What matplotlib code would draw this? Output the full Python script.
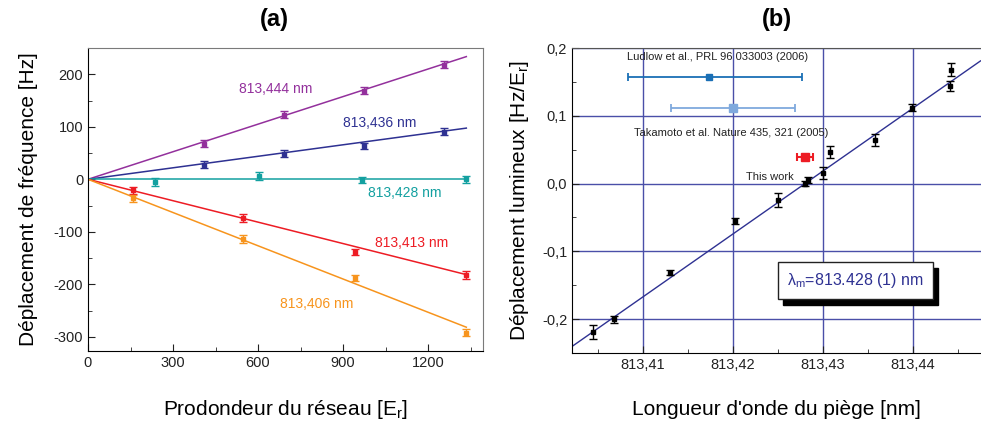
import numpy as np
import matplotlib
matplotlib.use("Agg")
import matplotlib.pyplot as plt
from matplotlib.ticker import MultipleLocator, FuncFormatter

plt.rcParams['font.family'] = ['Liberation Sans', 'DejaVu Sans']
plt.rcParams['axes.unicode_minus'] = False

# ---------------- Panel (a) data ----------------
depth_444 = [409, 693, 975, 1257]
shift_444 = [68, 123, 169, 218]
depth_436 = [409, 693, 975, 1257]
shift_436 = [28, 49, 63, 91]
depth_428 = [236, 604, 968, 1334]
shift_428 = [-5, 6, -1, 0]
depth_413 = [159, 547, 943, 1334]
shift_413 = [-21, -74, -138, -182]
depth_406 = [159, 547, 943, 1334]
shift_406 = [-36, -114, -188, -292]
err_a = [7, 7, 6, 7]
slopes_a = [0.175, 0.073, 0.0, -0.136, -0.211]
labels_a = ["813,444 nm", "813,436 nm", "813,428 nm", "813,413 nm", "813,406 nm"]
label_pos_x = [664, 1031, 1119, 1143, 808]
label_pos_y = [171, 108, -26, -121, -237]
colors_a = ["#93309c", "#2e3192", "#13a0a0", "#ed1c24", "#f7941d"]

# ---------------- Panel (b) data ----------------
wl = [813.4044, 813.4068, 813.4130, 813.4202, 813.4250, 813.4280, 813.4283,
      813.4300, 813.4308, 813.4358, 813.4399, 813.4441, 813.4442]
ls_shift = [-0.219, -0.2005, -0.1313, -0.0554, -0.024, 0.0, 0.0054,
            0.015, 0.046, 0.064, 0.112, 0.144, 0.168]
ls_err = [0.011, 0.005, 0.004, 0.004, 0.010, 0.004, 0.005,
          0.009, 0.009, 0.009, 0.005, 0.008, 0.010]
fit_slope = 9.28
lambda_m = 813.428
ludlow = (813.4173, 0.1574)
ludlow_xerr = [[0.0090], [0.0104]]
takamoto = (813.4200, 0.1113)
takamoto_xerr = 0.0069
thiswork = (813.4280, 0.0397)
thiswork_xerr = 0.0009

fig = plt.figure(figsize=(9.81, 4.23), dpi=100)

# ======== Panel (a) ========
axa = fig.add_axes([0.0897, 0.1702, 0.4027, 0.7163])
series = [(depth_444, shift_444), (depth_436, shift_436), (depth_428, shift_428),
          (depth_413, shift_413), (depth_406, shift_406)]
xfit = np.array([0, 1335])
for (xs, ys), s, c, lab, lx, ly in zip(series, slopes_a, colors_a, labels_a,
                                       label_pos_x, label_pos_y):
    axa.plot(xfit, s * xfit, color=c, lw=1.1, zorder=2)
    axa.errorbar(xs, ys, yerr=err_a, fmt='s', ms=3, color=c, ecolor=c,
                 elinewidth=1.0, capsize=3, capthick=1.0, zorder=3)
    axa.text(lx, ly, lab, color=c, fontsize=10, ha='center', va='center')

axa.set_xlim(0, 1394)
axa.set_ylim(-327, 250)
axa.xaxis.set_major_locator(MultipleLocator(300))
axa.xaxis.set_minor_locator(MultipleLocator(150))
axa.yaxis.set_major_locator(MultipleLocator(100))
axa.yaxis.set_minor_locator(MultipleLocator(50))
axa.tick_params(which='both', direction='in', top=False, right=False,
                labelsize=10.5, colors='#222222')
axa.tick_params(which='major', length=5)
axa.tick_params(which='minor', length=3)
for sp in ['top', 'right']:
    axa.spines[sp].set_color('#7a7a7a')
axa.set_xlabel(r"Prodondeur du réseau [E$_\mathregular{r}$]", fontsize=15, labelpad=20)
axa.set_ylabel("Déplacement de fréquence [Hz]", fontsize=15, labelpad=11)
axa.set_title("(a)", fontsize=17, fontweight='bold', pad=16, x=0.473)

# ======== Panel (b) ========
axb = fig.add_axes([0.5831, 0.1655, 0.4164, 0.7210])
xmin, xmax = 813.4021, 813.4475
axb.set_xlim(xmin, xmax)
axb.set_ylim(-0.25, 0.2)
axb.xaxis.set_major_locator(MultipleLocator(0.01))
axb.xaxis.set_minor_locator(MultipleLocator(0.005))
axb.yaxis.set_major_locator(MultipleLocator(0.1))
axb.yaxis.set_minor_locator(MultipleLocator(0.05))
axb.grid(True, which='major', color='#4a4fa8', lw=1.0, zorder=0)
axb.xaxis.set_major_formatter(FuncFormatter(lambda v, p: f"{v:.2f}".replace('.', ',')))
axb.yaxis.set_major_formatter(FuncFormatter(lambda v, p: f"{v:.1f}".replace('.', ',').replace('-0,0', '0,0')))
axb.tick_params(which='both', direction='in', top=False, right=False,
                labelsize=10.5, colors='#222222')
axb.tick_params(which='major', length=5)
axb.tick_params(which='minor', length=3)
axb.spines['top'].set_color('#555555')
axb.spines['right'].set_visible(False)

xl = np.array([xmin, xmax])
axb.plot(xl, fit_slope * (xl - lambda_m), color='#2e3192', lw=1.0, zorder=2)
axb.errorbar(wl, ls_shift, yerr=ls_err, fmt='s', ms=3.5, color='black',
             elinewidth=1.0, capsize=3, capthick=1.0, zorder=3)
axb.errorbar([ludlow[0]], [ludlow[1]], xerr=ludlow_xerr, fmt='s', ms=5,
             color='#1a6fb5', elinewidth=1.3, capsize=3, capthick=1.3, zorder=3)
axb.errorbar([takamoto[0]], [takamoto[1]], xerr=takamoto_xerr, fmt='s', ms=6,
             color='#7fa9dd', elinewidth=1.3, capsize=3, capthick=1.3, zorder=3)
axb.errorbar([thiswork[0]], [thiswork[1]], xerr=thiswork_xerr, fmt='s', ms=6,
             color='#ed1c24', elinewidth=1.5, capsize=3, capthick=1.5, zorder=3)

axb.text(813.4183, 0.186, "Ludlow et al., PRL 96 033003 (2006)", fontsize=8,
         ha='center', va='center', color='#222222')
axb.text(813.4198, 0.075, "Takamoto et al. Nature 435, 321 (2005)", fontsize=8,
         ha='center', va='center', color='#222222')
axb.text(813.4241, 0.0099, "This work", fontsize=8, ha='center', va='center',
         color='#222222')

# lambda_m box with shadow
bx0, by0, bw, bh = 0.504, 0.177, 0.379, 0.121
axb.add_patch(plt.Rectangle((bx0 + 0.012, by0 - 0.018), bw, bh, transform=axb.transAxes,
                            facecolor='black', edgecolor='black', zorder=5))
axb.add_patch(plt.Rectangle((bx0, by0), bw, bh, transform=axb.transAxes,
                            facecolor='white', edgecolor='#222222', lw=1.0, zorder=6))
axb.text(bx0 + bw / 2, by0 + bh / 2, r"$\mathregular{\lambda_m}$=813.428 (1) nm",
         transform=axb.transAxes, fontsize=11.5, color='#2e3192',
         ha='center', va='center', zorder=7)

axb.set_xlabel("Longueur d'onde du piège [nm]", fontsize=15, labelpad=20)
axb.set_ylabel(r"Déplacement lumineux [Hz/E$_\mathregular{r}$]", fontsize=15, labelpad=8)
axb.set_title("(b)", fontsize=17, fontweight='bold', pad=16, x=0.502)

fig.savefig("out.png", dpi=100)
